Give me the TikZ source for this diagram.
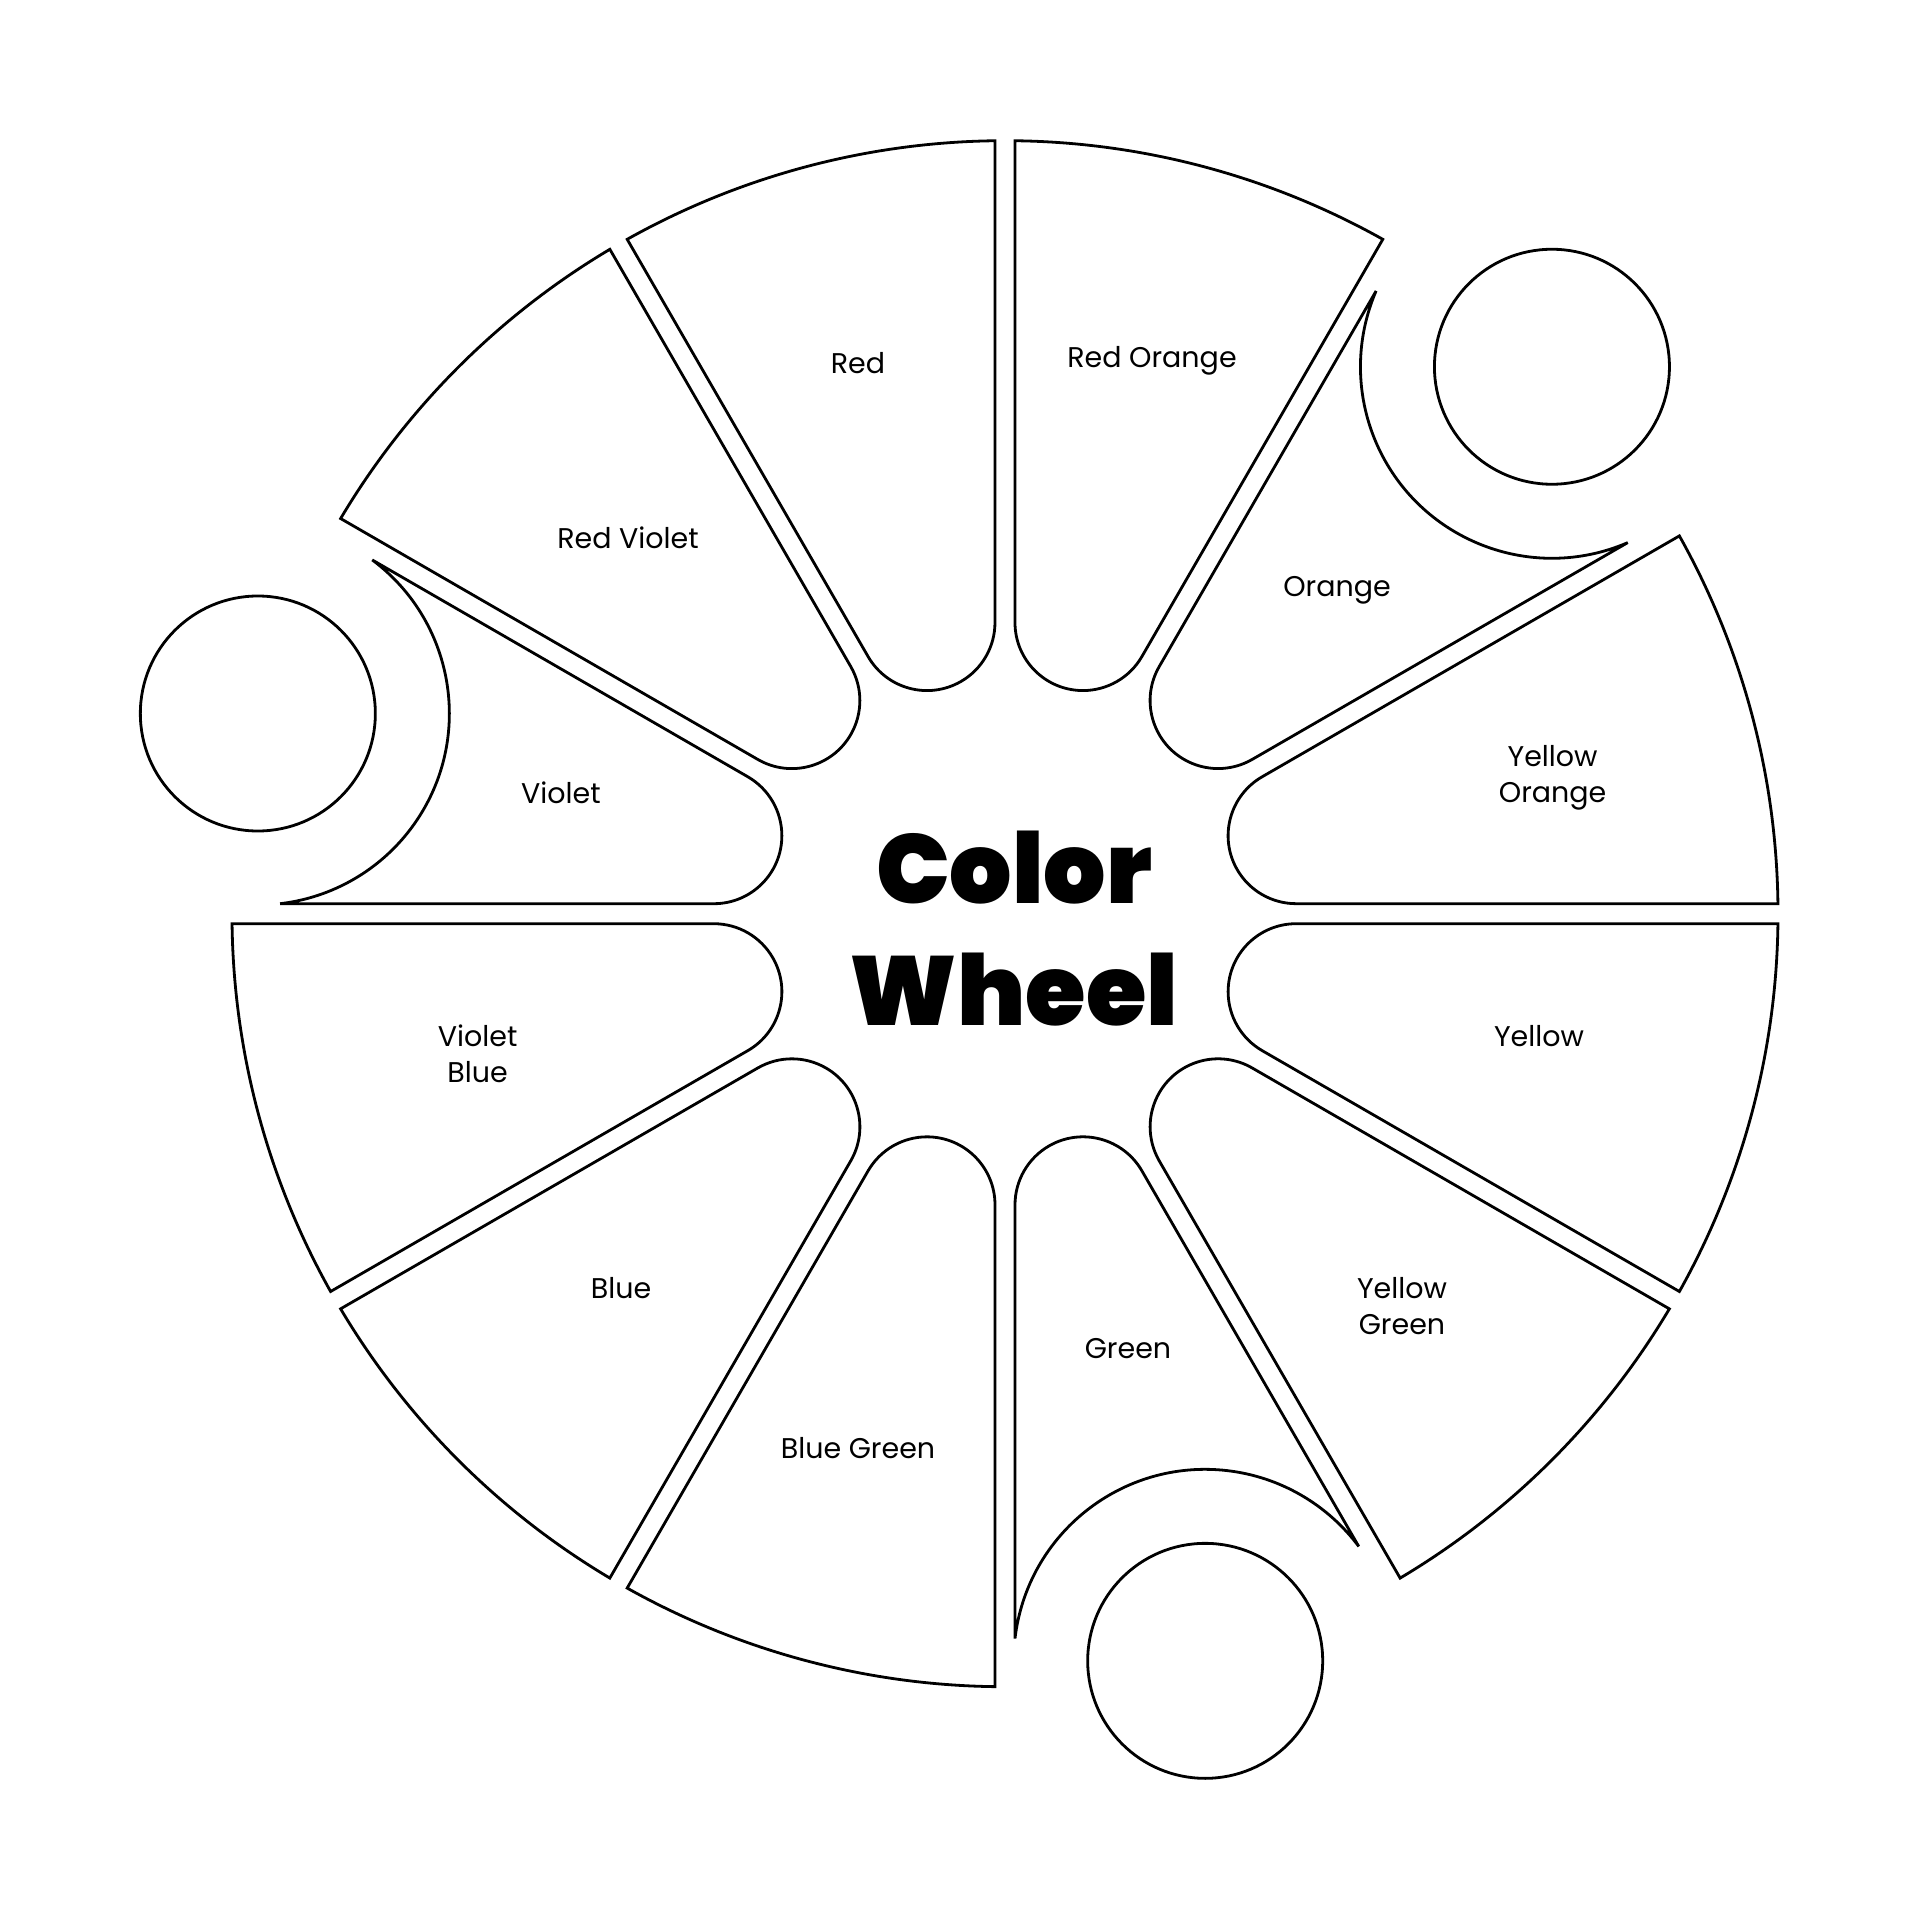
\documentclass[tikz,border=0pt]{standalone}
\usepackage{fontspec}
\setmainfont{Poppins}
\newfontfamily\titlefont{Poppins Black}
\usetikzlibrary{calc}
\tikzset{
  seg/.style={draw=black, line width=2.8pt, fill=white},
  dot/.style={circle, draw=black, line width=2.8pt, minimum size=235pt, inner sep=0pt},
  lbl/.style={anchor=base, align=center, font=\fontsize{28.5}{36}\selectfont, inner sep=0pt},
  ttl/.style={anchor=base, align=center, font=\titlefont\fontsize{98}{122}\selectfont, inner sep=0pt}
}
\begin{document}
\begin{tikzpicture}[x=1pt,y=1pt]
\useasboundingbox (-1005,-1006.3) rectangle (915,913.7);
\fill[white] (-1005,-1006.3) rectangle (915,913.7);
% plain segments
\foreach \aa in {0,60,90,120,180,210,240,300,330}{
  \pgfmathsetmacro{\ab}{\aa+30}
  \draw[seg] ($(\aa:291.13)+(\aa+90:10)$) -- ($(\aa:772.94)+(\aa+90:10)$)
    arc[start angle=\aa+0.741, end angle=\ab-0.741, radius=773]
    -- ($(\ab:291.13)+(\ab-90:10)$)
    arc[start angle=\ab+90, end angle=\aa+270, radius=68] -- cycle;
}
% segments with a bite
\foreach \aa/\nm in {30/dA,150/dB,270/dC}{
  \pgfmathsetmacro{\ab}{\aa+30}
  \pgfmathsetmacro{\mm}{\aa+15}
  \draw[seg] ($(\aa:291.13)+(\aa+90:10)$) -- ($(\aa:724.86)+(\aa+90:10)$)
    arc[start angle=\mm+248.32, end angle=\mm+111.68, radius=191.5]
    -- ($(\ab:291.13)+(\ab-90:10)$)
    arc[start angle=\ab+90, end angle=\aa+270, radius=68] -- cycle;
  \node[dot] (\nm) at (\mm:773.5) {};
}
% labels
\node[lbl] (red) at (-147,539.7) {Red};
\node[lbl] (redorange) at (147,546.2) {Red Orange};
\node[lbl] (redviolet) at (-377,364.7) {Red Violet};
\node[lbl] (orange) at (332,317.2) {Orange};
\node[lbl] (violet) at (-444,110.2) {Violet};
\node[lbl] (yelloworange) at (547.6,111) {Yellow\\Orange};
\node[lbl] (violetblue) at (-527.4,-168.3) {Violet\\Blue};
\node[lbl] (yellow) at (534,-132.3) {Yellow};
\node[lbl] (blue) at (-384,-384.3) {Blue};
\node[lbl] (yellowgreen) at (397,-420.3) {Yellow\\Green};
\node[lbl] (green) at (123,-444.3) {Green};
\node[lbl] (bluegreen) at (-147,-544.9) {Blue Green};
% title
\node[ttl] (title) at (9,-111.3) {Color\\Wheel};
\end{tikzpicture}
\end{document}
